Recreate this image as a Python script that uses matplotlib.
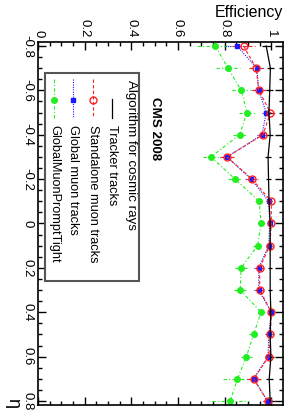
import matplotlib
matplotlib.use("Agg")
import matplotlib.pyplot as plt
import numpy as np
from matplotlib.patches import Rectangle
from matplotlib.lines import Line2D

plt.rcParams['font.family'] = ['Liberation Sans', 'DejaVu Sans']

eta = [-0.8, -0.7, -0.6, -0.5, -0.4, -0.3, -0.2, -0.1, 0.0,
       0.1, 0.2, 0.3, 0.4, 0.5, 0.6, 0.7, 0.8]
tracker = [0.978, 0.996, 0.993, 0.990, 0.995, 0.986, 0.988, 0.990, 0.995,
           0.995, 0.995, 0.995, 0.998, 0.995, 0.998, 0.991, 0.995]
tracker_err = [0.02, 0.015, 0.015, 0.012, 0.012, 0.012, 0.012, 0.01, 0.01,
               0.01, 0.01, 0.01, 0.01, 0.01, 0.012, 0.015, 0.02]
standalone = [0.881, 0.935, 0.946, 0.996, 0.964, 0.810, 0.917, 1.000, 1.000,
              0.993, 0.950, 0.950, 1.000, 0.996, 0.989, 0.924, 0.984]
standalone_err = [0.05, 0.03, 0.03, 0.02, 0.02, 0.03, 0.025, 0.01, 0.01,
                  0.01, 0.02, 0.02, 0.01, 0.015, 0.015, 0.03, 0.02]
globalmu = [0.853, 0.938, 0.946, 0.978, 0.960, 0.810, 0.914, 0.989, 0.993,
            0.989, 0.946, 0.946, 1.000, 0.989, 0.986, 0.924, 0.984]
globalmu_err = [0.05, 0.03, 0.03, 0.02, 0.02, 0.03, 0.025, 0.01, 0.01,
                0.01, 0.02, 0.02, 0.01, 0.015, 0.015, 0.03, 0.02]
gmpt = [0.760, 0.814, 0.871, 0.896, 0.864, 0.741, 0.845, 0.948, 0.956,
        0.941, 0.870, 0.867, 0.956, 0.924, 0.893, 0.855, 0.824]
gmpt_err = [0.08, 0.05, 0.04, 0.035, 0.03, 0.035, 0.03, 0.02, 0.015,
            0.02, 0.025, 0.025, 0.015, 0.02, 0.025, 0.06, 0.08]

legend_title = "Algorithm for cosmic rays"
labels = ["Tracker tracks", "Standalone muon tracks", "Global muon tracks",
          "GlobalMuonPromptTight"]

W, H = 298, 415
fig = plt.figure(figsize=(W / 100, H / 100), dpi=100)

def fx(px):
    return px / W

def fy(py):
    return 1 - py / H

ax = fig.add_axes([fx(38), fy(405), fx(283) - fx(38), fy(42) - fy(405)])
ax.set_xlim(0, 1.05)
ax.set_ylim(0.818, -0.818)

series = [
    (tracker, tracker_err, 'black', '-', 'None', 3, 'black', 'black', 0.9),
    (standalone, standalone_err, '#ff2020', (0, (3, 2)), 'o', 5.0, 'none', '#ff2020', 0.8),
    (globalmu, globalmu_err, '#1a1aff', (0, (1, 1.2)), 's', 2.4, '#1a1aff', '#1a1aff', 0.8),
    (gmpt, gmpt_err, '#22ee22', (0, (3, 2, 1, 2)), 'o', 4.0, '#22ee22', '#22ee22', 0.8),
]
for vals, errs, col, ls, mk, ms, mfc, mec, lw in series[::-1]:
    cont = ax.errorbar(vals, eta, xerr=errs, color=col, linestyle=ls, marker=mk,
                       markersize=ms, markerfacecolor=mfc, markeredgecolor=mec,
                       linewidth=lw, elinewidth=lw, capsize=0)
    for lc in cont.lines[2]:
        lc.set_linestyle(ls)

ax.xaxis.tick_top()
ax.set_xticks([0, 0.2, 0.4, 0.6, 0.8, 1.0])
ax.set_xticklabels(["0", "0.2", "0.4", "0.6", "0.8", "1"])
ax.set_xticks(np.arange(0, 1.05, 0.05), minor=True)
ax.set_yticks([-0.8, -0.6, -0.4, -0.2, 0, 0.2, 0.4, 0.6, 0.8])
ax.set_yticklabels(["-0.8", "-0.6", "-0.4", "-0.2", "0", "0.2", "0.4", "0.6", "0.8"])
ax.set_yticks(np.arange(-0.8, 0.81, 0.05), minor=True)
ax.tick_params(which='both', direction='in', top=True, bottom=True, left=True, right=True,
               width=1.0, labelsize=9.5)
ax.tick_params(which='major', length=6)
ax.tick_params(which='minor', length=3)
ax.tick_params(axis='x', labelrotation=-90, pad=3)
ax.tick_params(axis='y', labelrotation=-90, pad=3)
for lab in ax.get_yticklabels():
    lab.set_va('center')
for s in ax.spines.values():
    s.set_linewidth(1.2)

# axis titles
fig.text(fx(283), fy(17), "Efficiency", ha='right', va='baseline', fontsize=11.5)
fig.text(fx(13), fy(403), "η", ha='center', va='center', rotation=-90, fontsize=13)

# CMS 2008
fig.text(fx(155), fy(97), "CMS 2008", ha='center', va='top', rotation=-90,
         fontsize=9.6, fontweight='bold')

# legend box
fig.patches.append(Rectangle((fx(45), fy(281)), fx(139) - fx(45), fy(73) - fy(281),
                             transform=fig.transFigure, facecolor='white',
                             edgecolor='#555555', linewidth=1.5, zorder=5))
fig.text(fx(131), fy(80), legend_title, ha='center', va='top', rotation=-90,
         fontsize=9.6, zorder=6)
cols = [112, 93, 73, 54]
for (vals, errs, col, ls, mk, ms, mfc, mec, lw), lab, cx in zip(series, labels, cols):
    y0 = 99 if col == 'black' else 79
    fig.lines.append(Line2D([fx(cx), fx(cx)], [fy(y0), fy(118)], transform=fig.transFigure,
                            color=col, linestyle=ls, linewidth=lw, zorder=6))
    if mk != 'None':
        fig.lines.append(Line2D([fx(cx)], [fy(100)], transform=fig.transFigure,
                                marker=mk, markersize=ms, markerfacecolor=mfc,
                                markeredgecolor=mec, linestyle='None', zorder=7))
    fig.text(fx(cx), fy(125), lab, ha='center', va='top', rotation=-90,
             fontsize=9.2, zorder=6)

fig.savefig("out.png", dpi=100)
